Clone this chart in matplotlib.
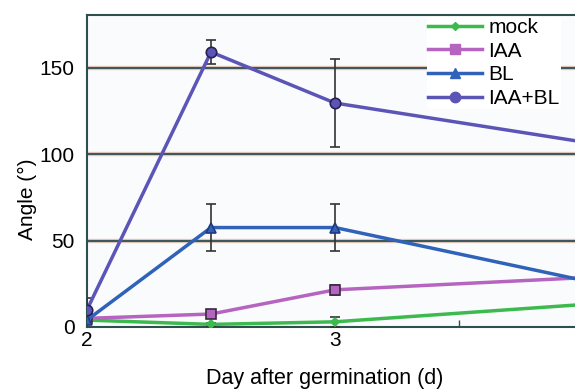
import matplotlib.pyplot as plt
from matplotlib.lines import Line2D
from matplotlib.ticker import FixedLocator

plt.rcParams['font.family'] = ['Liberation Sans', 'DejaVu Sans']

# datos
dias = [2, 2.5, 3, 4]
mock = [4, 1.5, 3, 13]
mock_err = [1, 1, 3, 1]
iaa = [5, 7.5, 21.5, 28.5]
iaa_err = [1, 2, 3, 1]
bl = [4, 57.5, 57.5, 27]
bl_err = [2, 13.5, 13.5, 2]
iaa_bl = [10, 159, 129.5, 107]
iaa_bl_err = [7, 7, 25.5, 3]

series = [
    ("mock", mock, mock_err, "#3dba4e", "D", 4.5, "#3dba4e"),
    ("IAA", iaa, iaa_err, "#b565c0", "s", 7, "#3a2a40"),
    ("BL", bl, bl_err, "#2f62b8", "^", 7, "#1f3a80"),
    ("IAA+BL", iaa_bl, iaa_bl_err, "#5b55b8", "o", 7.5, "#2a2050"),
]

fig = plt.figure(figsize=(5.75, 3.89), dpi=100)
ax = fig.add_axes([87 / 575, 62 / 389, 496 / 575, 312 / 389])
ax.set_facecolor("#fafbfd")

for y in [50, 100, 150]:
    ax.axhline(y, color="#f4d2c6", linewidth=3.2, zorder=1)
    ax.axhline(y, color="#3c5a5e", linewidth=1.6, zorder=1.1)

manejadores = []
for nombre, vals, err, col, mk, ms, ec in series:
    ax.errorbar(dias, vals, yerr=err, color=col, linewidth=2.5, marker=mk,
                markersize=ms, markerfacecolor=col, markeredgecolor=ec,
                markeredgewidth=1.2, ecolor="#333333", elinewidth=1.2,
                capsize=3.5, capthick=1.2, zorder=3)
    manejadores.append(Line2D([], [], color=col, linewidth=2.5, marker=mk,
                              markersize=ms, markerfacecolor=col,
                              markeredgecolor=col, label=nombre))

ax.set_xlim(2, 4)
ax.set_ylim(0, 180.4)
ax.set_xticks([2, 3])
ax.xaxis.set_minor_locator(FixedLocator([2.5, 3.5]))
ax.set_yticks([0, 50, 100, 150])
ax.tick_params(axis="x", which="both", direction="in", length=5, width=1,
               color="#2f4f4f", labelsize=15, pad=3)
ax.tick_params(axis="y", length=0, labelsize=15, pad=9)

for s in ["left", "bottom", "top", "right"]:
    ax.spines[s].set_color("#2f4f4f")
    ax.spines[s].set_linewidth(1.5)

ax.set_xlabel("Day after germination (d)", fontsize=15.5)
ax.set_ylabel("Angle (°)", fontsize=15)
ax.xaxis.set_label_coords(0.48, -0.13)
ax.yaxis.set_label_coords(-0.10, 0.41)

leg = ax.legend(handles=manejadores, loc="upper left",
                bbox_to_anchor=(338 / 496, 1.0), frameon=True,
                fontsize=15, handlelength=2.6, handletextpad=0.3,
                labelspacing=0.22, borderpad=0.05, borderaxespad=0.1)
leg.get_frame().set_facecolor("white")
leg.get_frame().set_edgecolor("none")
leg.get_frame().set_alpha(1)

fig.savefig("out.png", dpi=100)
